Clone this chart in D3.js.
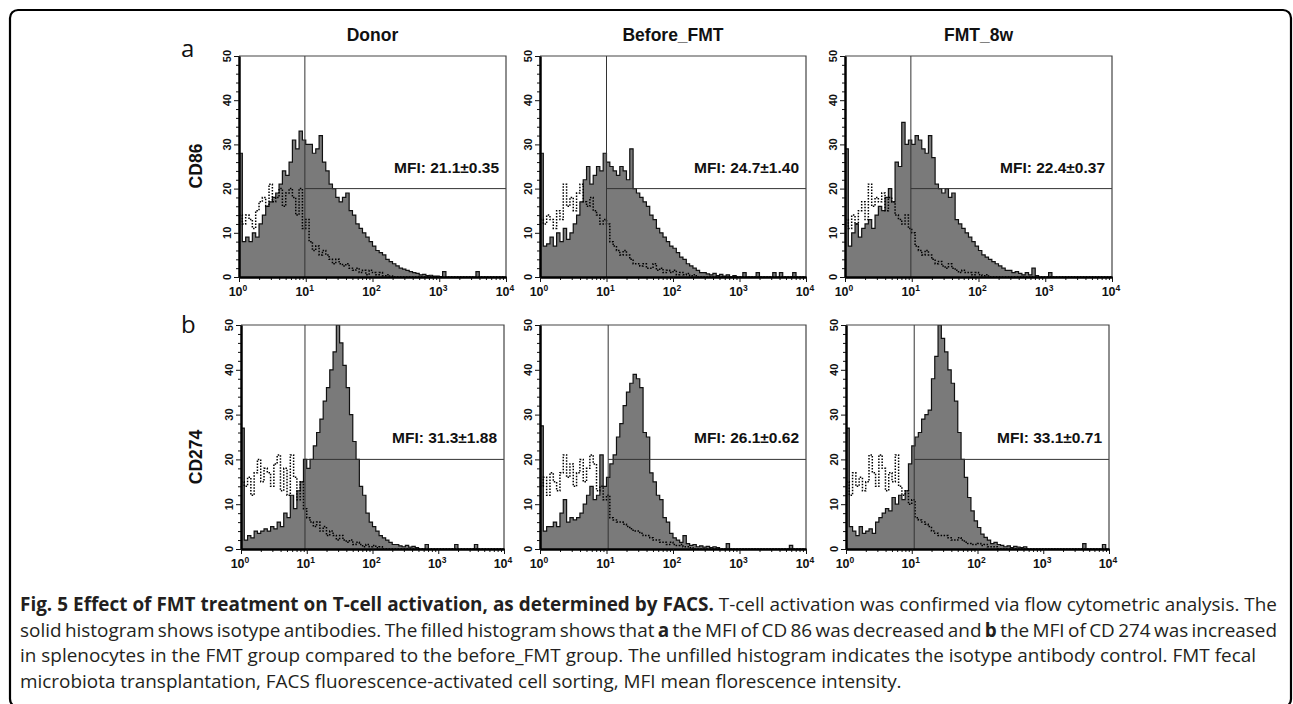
<!DOCTYPE html>
<html><head><meta charset="utf-8">
<script src="https://cdn.jsdelivr.net/npm/d3@7"></script>
<style>body{margin:0;background:#fff;} svg{display:block}</style>
</head><body>
<svg id="c" width="1293" height="704"></svg>
<script>
// ---------------- DATA ----------------
const groups = ["Donor", "Before_FMT", "FMT_8w"];
const markers = ["CD86", "CD274"];
const panelLetters = ["a", "b"];
const mfiLabels = ["MFI: 21.1±0.35", "MFI: 24.7±1.40", "MFI: 22.4±0.37",
                   "MFI: 31.3±1.88", "MFI: 26.1±0.62", "MFI: 33.1±0.71"];
const gateX = [9.7, 10, 9.7, 9.4, 10.6, 10.9];
const gateY = 20;
const yTicks = [0, 10, 20, 30, 40, 50];
const yMinorTicks = [2,4,6,8,12,14,16,18,22,24,26,28,32,34,36,38,42,44,46,48];
const xTickExps = [0, 1, 2, 3, 4];
const binsPerDecade = 20; // histogram channels: 20 per log decade, 80 channels over 10^0..10^4

// filled histograms (stained) and dotted histograms (isotype control), counts per channel
const donorCD86 = [28,8,9,8,10,9,12,14,16,17, 18,19,21,24,23,26,31,29,33,31, 30,30,28,29,32,26,24,21,20,18, 17,18,19,15,14,12,11,10,9,8, 7,6,5.5,5,4,3.5,3,2.5,2,1.8, 1.5,1.2,1,0.8,0.5,0.6,0.3,0.4,0.2,0.2, 0.1,1.2,0,0,0,0,0,0,0,0, 0,1.2,0,0,0,0,0,0,0,0];
const donorCD86Iso = [14,12,14,13,11,15,17,18,16,21, 17,18,20,16,19,20,18,14,20,11, 13,8,6,7,5,6,5,4,3,4, 3,2.5,3,2,1.5,2,1,1.5,0.5,1.5, 1,0.5,1,0.3,0.5,0.2,0,0,0,0, 0,0,0,0,0,0,0,0,0,0, 0,0,0,0,0,0,0,0,0,0, 0,0,0,0,0,0,0,0,0,0];
const beforeCD86 = [28,7,7.5,9,7,10,8,11,8.5,10, 12,14,17,22,25,21,23,25,24,28, 26,25,24,23,25,24,22,29,20,19, 18,17,16,14,13,11,10,9,8,7, 6.5,5.5,4.5,4,3,2.5,2,1.5,1,1, 0.7,0.5,0.8,0.3,0.6,0.2,0.5,0,0.3,0, 0,1,0,0,0,1,0,0,0,0, 1,0,1,0,0,0,1,0,0,0];
const beforeCD86Iso = [13,12,14,13,11,15,13,21,16,18, 15,19,21,17,16,18,15,14,12,13, 12,8,7,6,5,6,5,4,3,3, 2.5,3,2,2,3,1.5,2,1,1.5,1, 1.5,0.5,1,0.5,0.8,0.3,0.5,0,0,0, 0,0,0,0,0,0,0,0,0,0, 0,0,0,0,0,0,0,0,0,0, 0,0,0,0,0,0,0,0,0,0];
const fmtCD86 = [29,7,10,12,9,11,12,13,11,14, 16,15,18,20,17,26,25,35,30,31, 30,32,31,29,28,32,27,21,20,19, 20,18,19,13,12,11,10,9,8,7, 6,5,4.5,4,3.5,3,2.5,2,1.5,1.5, 1,1.2,0.8,0.5,1,0.5,2,0.3,0,0, 0,1,0,0,0,0,0,0,0,0, 0,0,0,0,0,0,0,0,0,0];
const fmtCD86Iso = [13,11,14,12,15,17,13,21,16,18, 17,19,15,18,17,14,13,12,14,11, 10,7,6,5,6,5,4,3,3.5,2.5, 2,3,2,1.5,1,1.5,1,1,0.5,1, 0.5,0.3,0.5,0,0,0,0,0,0,0, 0,0,0,0,0,0,0,0,0,0, 0,0,0,0,0,0,0,0,0,0, 0,0,0,0,0,0,0,0,0,0];
const donorCD274 = [27,2,3,2.5,4,3.5,4,4.5,4,5, 4.5,6,5,8,7,12,9,13,15,20, 18,20,23,26,29,33,36,40,44,50, 46,41,36,30,24,20,14,12,8,6, 5,4,3,2.5,2,1.5,1,1,0.7,0.5, 0.8,0.4,0.6,0.3,0,0,1,0,0,0, 0,0,0,0,0,1,0,0,0,0, 0,1,0,0,0,0,0,0,0,0];
const donorCD274Iso = [15,14,16,12,17,20,15,18,17,14, 19,21,13,18,12,21,16,11,15,9, 7,6,5,6,4,5,3,4,3,2, 3,2,1.5,2,1,1.5,1,0.5,1,0.5, 0.8,0.3,0.5,0,0,0,0,0,0,0, 0,0,0,0,0,0,0,0,0,0, 0,0,0,0,0,0,0,0,0,0, 0,0,0,0,0,0,0,0,0,0];
const beforeCD274 = [27.5,4,5,5,6,5,8,11,6,7, 6.5,7,8,10,12,14,11,12,21,14, 16,19,21,25,28,32,35,37,39,38, 36,26,25,17,15,12,11,7,6,3.5, 2.5,2,1.5,3,1.2,0.8,1,0.5,0.7,0.4, 0.6,0.3,0.5,0.3,0,0,1.2,0,0,0, 0,0,0,0,0,0,0,0,0,0, 0,0,0,0,0,0.8,0,0,0,0];
const beforeCD274Iso = [14,16,12,17,15,13,17,21,16,19, 14,17,20,15,18,21,19,13,14,11, 12,7,6.5,6,6,5.5,5,4.5,4,4, 3.5,3,3,2.5,2,2,1.5,1.5,1,1.5, 1,0.8,1,0.5,0.5,0.3,0,0,0,0, 0,0,0,0,0,0,0,0,0,0, 0,0,0,0,0,0,0,0,0,0, 0,0,0,0,0,0,0,0,0,0];
const fmtCD274 = [27,5,4,3,5,3.5,4,4.5,3.5,6, 7,8,9,8.5,11.5,10,12,11,13,19, 23,25,26,29,30,31,38,43,50,47, 44,40,37,33,26,20,16,11.5,8.5,6.3, 4.8,3.3,2.6,2,1.2,1.5,1,0.8,0.5,0.7, 0.3,0.6,0.4,0.3,0.5,0,0,0,0,0, 0,0,0,0,0,0,0,0,0,0, 0,0,1.2,0,0,0,0,0,1,0];
const fmtCD274Iso = [15,12,17,14,16,13,15,21,17,14, 21,18,13,17,15,21,14,12,13,10, 11,7,6.5,6,5.5,5,4,3.5,3,3, 3,2.5,2,2,2.5,2,1.5,1.2,1,1, 1.2,0.8,1,0.5,0.5,0.5,0,0,0,0, 0,0,0,0,0,0,0,0,0,0, 0,0,0,0,0,0,0,0,0,0, 0,0,0,0,0,0,0,0,0,0];

const filledSeries = [donorCD86, beforeCD86, fmtCD86, donorCD274, beforeCD274, fmtCD274];
const isoSeries = [donorCD86Iso, beforeCD86Iso, fmtCD86Iso, donorCD274Iso, beforeCD274Iso, fmtCD274Iso];

const captionLines = [
  [{t:"Fig. 5 Effect of FMT treatment on T-cell activation, as determined by FACS.", b:true}, {t:" T-cell activation was confirmed via flow cytometric analysis. The"}],
  [{t:"solid histogram shows isotype antibodies. The filled histogram shows that "}, {t:"a", b:true}, {t:" the MFI of CD 86 was decreased and "}, {t:"b", b:true}, {t:" the MFI of CD 274 was increased"}],
  [{t:"in splenocytes in the FMT group compared to the before_FMT group. The unfilled histogram indicates the isotype antibody control. FMT fecal"}],
  [{t:"microbiota transplantation, FACS fluorescence-activated cell sorting, MFI mean florescence intensity."}]
];

// ---------------- LAYOUT ----------------
const svg = d3.select("#c");
const AX = "'Liberation Sans', Arial, Helvetica, sans-serif";
const rowsLayout = [
  {top: 56, bottom: 277, lefts: [239, 540, 845], widths: [267, 266, 267], labelY: 166, letterY: 57},
  {top: 325, bottom: 549, lefts: [241, 540, 846], widths: [263, 266, 263], labelY: 457, letterY: 333}
];

// outer frame
svg.append("rect").attr("x", 10).attr("y", 10).attr("width", 1281).attr("height", 697)
  .attr("rx", 8).attr("fill", "none").attr("stroke", "#000").attr("stroke-width", 2.2);

const defs = svg.append("defs");

rowsLayout.forEach((row, r) => {
  svg.append("text").attr("x", 181).attr("y", row.letterY)
    .attr("font-family", "'Open Sans', sans-serif").attr("font-size", 24).attr("fill", "#111")
    .text(panelLetters[r]);
  svg.append("text").attr("transform", `translate(201.5,${row.labelY}) rotate(-90)`)
    .attr("text-anchor", "middle").attr("font-family", AX).attr("font-weight", "bold")
    .attr("font-size", 17.5).attr("fill", "#111").text(markers[r]);

  row.lefts.forEach((left, c) => {
    const k = r * 3 + c;
    const w = row.widths[c];
    const x = d3.scaleLog().domain([1, 1e4]).range([left, left + w]);
    const y = d3.scaleLinear().domain([0, 50]).range([row.bottom, row.top]);
    const g = svg.append("g");

    if (r === 0) {
      g.append("text").attr("x", left + w / 2).attr("y", 41).attr("text-anchor", "middle")
        .attr("font-family", AX).attr("font-weight", "bold").attr("font-size", 17.5)
        .attr("fill", "#111").text(groups[c]);
    }

    const clipId = "clip" + k;
    defs.append("clipPath").attr("id", clipId).append("rect")
      .attr("x", left).attr("y", row.top).attr("width", w).attr("height", row.bottom - row.top);

    const toPts = vals => {
      const pts = vals.map((v, i) => ({x: Math.pow(10, i / binsPerDecade), v}));
      pts.push({x: 1e4, v: vals[vals.length - 1]});
      return pts;
    };
    const area = d3.area().x(d => x(d.x)).y0(y(0)).y1(d => y(d.v)).curve(d3.curveStepAfter);
    const line = d3.line().x(d => x(d.x)).y(d => y(d.v)).curve(d3.curveStepAfter);
    const hg = g.append("g").attr("clip-path", `url(#${clipId})`);
    const fp = toPts(filledSeries[k]);
    hg.append("path").attr("d", area(fp)).attr("fill", "#7a7a7a");
    hg.append("path").attr("d", line(fp)).attr("fill", "none").attr("stroke", "#111").attr("stroke-width", 1.2);
    const ip = toPts(isoSeries[k]);
    hg.append("path").attr("d", line(ip)).attr("fill", "none").attr("stroke", "#000")
      .attr("stroke-width", 1.5).attr("stroke-dasharray", "1.5,1.5");

    g.append("line").attr("x1", x(gateX[k])).attr("x2", x(gateX[k])).attr("y1", y(0)).attr("y2", y(50))
      .attr("stroke", "#333").attr("stroke-width", 1);
    g.append("line").attr("x1", x(gateX[k])).attr("x2", x(1e4)).attr("y1", y(gateY)).attr("y2", y(gateY))
      .attr("stroke", "#333").attr("stroke-width", 1);

    g.append("path").attr("d", `M${x(1)},${y(50)}H${x(1e4)}V${y(0)}`).attr("fill", "none")
      .attr("stroke", "#444").attr("stroke-width", 1.2);

    const yMinor = d3.axisLeft(y).tickValues(yMinorTicks).tickSize(3).tickFormat("").tickSizeOuter(0);
    const yMajor = d3.axisLeft(y).tickValues(yTicks).tickSize(5).tickFormat("").tickSizeOuter(0);
    const ga = g.append("g").attr("transform", `translate(${x(1)},0)`);
    ga.call(yMinor); ga.append("g").call(yMajor);
    const xMinorVals = [];
    xTickExps.slice(0, -1).forEach(e => { for (let m = 2; m <= 9; m++) xMinorVals.push(m * Math.pow(10, e)); });
    const xMinor = d3.axisBottom(x).tickValues(xMinorVals).tickSize(3).tickFormat("").tickSizeOuter(0);
    const xMajor = d3.axisBottom(x).tickValues(xTickExps.map(e => Math.pow(10, e))).tickSize(5).tickFormat("").tickSizeOuter(0);
    const gx = g.append("g").attr("transform", `translate(0,${y(0)})`);
    gx.call(xMinor); gx.append("g").call(xMajor);
    g.selectAll(".domain").attr("stroke", "#000").attr("stroke-width", 2);
    g.selectAll(".tick line").attr("stroke", "#111").attr("stroke-width", 1);

    yTicks.forEach(t => {
      g.append("text").attr("transform", `translate(${x(1) - 8.5},${y(t)}) rotate(-90)`)
        .attr("text-anchor", "middle").attr("font-family", AX).attr("font-weight", "bold")
        .attr("font-size", 11).attr("fill", "#111").text(t);
    });
    xTickExps.forEach(e => {
      const tx = g.append("text").attr("x", x(Math.pow(10, e)) - 1).attr("y", y(0) + 19)
        .attr("text-anchor", "middle").attr("font-family", AX).attr("font-weight", "bold")
        .attr("font-size", 12.5).attr("fill", "#111");
      tx.append("tspan").text("10");
      tx.append("tspan").attr("font-size", 8.5).attr("dy", -5).text(String(e));
    });

    g.append("text").attr("x", x(1e4) - 7).attr("y", y(gateY) - 16).attr("text-anchor", "end")
      .attr("font-family", AX).attr("font-weight", "bold").attr("font-size", 15.5)
      .attr("fill", "#111").text(mfiLabels[k]);
  });
});

// ---------------- CAPTION ----------------
const capX = 20;
const capBaselines = [611, 636.5, 662, 687.5];
const capEnds = [1277, 1277, 1256, null];
const capNodes = captionLines.map((parts, i) => {
  const t = svg.append("text").attr("x", capX).attr("y", capBaselines[i])
    .attr("font-family", "'Open Sans', sans-serif").attr("font-size", 16).attr("fill", "#231f20");
  parts.forEach(p => t.append("tspan").attr("font-weight", p.b ? 700 : 400).text(p.t));
  return t;
});
const w3 = capNodes[2].node().getComputedTextLength();
const fs = 16 * (capEnds[2] - capX) / w3;
capNodes.forEach((t, i) => {
  t.attr("font-size", fs);
  if (capEnds[i]) {
    const w = t.node().getComputedTextLength();
    const spaces = captionLines[i].map(p => p.t).join("").split(" ").length - 1;
    t.style("word-spacing", ((capEnds[i] - capX - w) / spaces) + "px");
  }
});
</script>
</body></html>
